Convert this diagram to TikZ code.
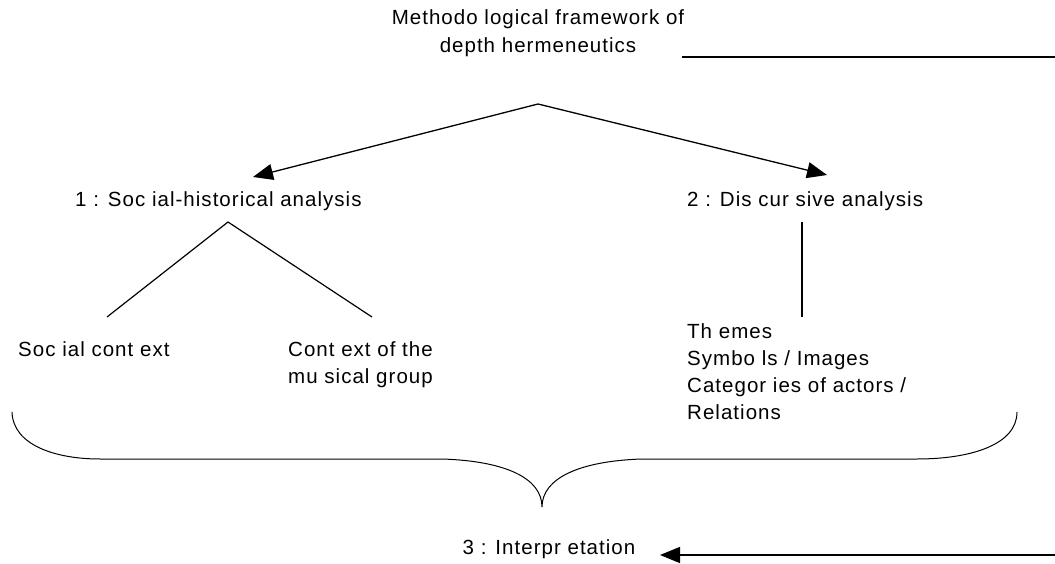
\documentclass[tikz,border=0pt]{standalone}
\usepackage{fontspec}
\setmainfont{Liberation Sans}[LetterSpace=5]
\usetikzlibrary{arrows.meta}
\tikzset{
  lbl/.style={inner sep=0pt, font=\fontsize{20.5}{27}\selectfont},
  arr/.style={line width=1.3pt, -{Triangle[length=20pt,width=16pt]}},
  ln/.style={line width=1.2pt},
  thick line/.style={line width=1.6pt},
  bracestyle/.style={line width=1pt},
}
\begin{document}
\begin{tikzpicture}[x=1pt,y=-1pt]
\useasboundingbox (0,0) rectangle (1055,564);
% texts (base anchor of a multi-line node = baseline of its last line)
\node[lbl, align=center, anchor=base, font=\fontsize{20.5}{28}\selectfont] (title) at (538,53) {Methodo logical framework of\\depth hermeneutics};
\node[lbl, anchor=base west] (sh) at (75,207) {1 : Soc ial-historical analysis};
\node[lbl, anchor=base west] (da) at (687,207) {2 : Dis cur sive analysis};
\node[lbl, anchor=base west] (sc) at (18,356) {Soc ial cont ext};
\node[lbl, anchor=base west, align=left] (cg) at (288,383) {Cont ext of the\\mu sical group};
\node[lbl, anchor=base west, align=left] (th) at (687,419) {Th emes\\Symbo ls / Images\\Categor ies of actors /\\Relations};
\node[lbl, anchor=base] (ip) at (549,554) {3 : Interpr etation};
% coordinates
\coordinate (apex) at (538,104);
\coordinate (t1) at (253,177);
\coordinate (t2) at (827,175);
\coordinate (v) at (228,222);
\coordinate (vl) at (107,317);
\coordinate (vr) at (372,317);
\coordinate (dtop) at (802,222);
\coordinate (dbot) at (802,317);
\coordinate (ls) at (682,57);
\coordinate (le) at (1055,57);
\coordinate (as) at (1055,555);
\coordinate (t3) at (660,555);
% connectors
\draw[thick line] (ls) -- (le);
\draw[arr] (apex) -- (t1);
\draw[arr] (apex) -- (t2);
\draw[ln] (vl) -- (v) -- (vr);
\draw[ln] (dtop) -- (dbot);
\draw[arr, line width=1.6pt] (as) -- (t3);
% brace
\draw[bracestyle] (12,412) .. controls (13,445) and (55,459) .. (100,459)
  -- (442,459) .. controls (505,461) and (542,478) .. (542,507)
  .. controls (542,478) and (580,461) .. (642,459)
  -- (917,459) .. controls (970,459) and (1017,445) .. (1017,412);
\end{tikzpicture}
\end{document}
